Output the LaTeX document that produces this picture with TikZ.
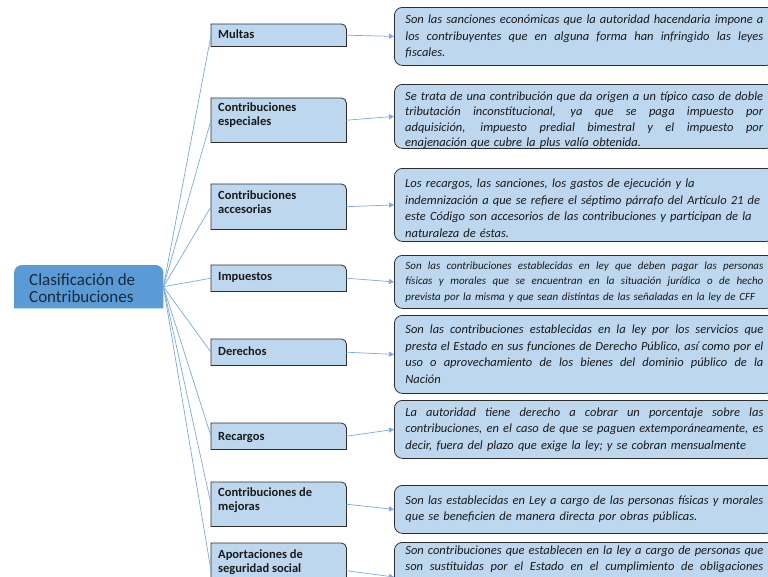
\documentclass[tikz,border=0pt]{standalone}
\usepackage{fontspec}
\setmainfont{Carlito}
\usetikzlibrary{arrows.meta}
\definecolor{boxfill}{HTML}{BDD7EE}
\definecolor{rootfill}{HTML}{5B9BD5}
\definecolor{conn}{HTML}{7EAAD9}
\definecolor{edgecol}{HTML}{2E2E2E}
\definecolor{txt}{HTML}{1A1A1A}
\definecolor{roottxt}{HTML}{1B2838}
\newlength\descW \setlength\descW{358pt}
\newcommand\jl[1]{\leavevmode\hbox to \descW{\spaceskip=\fontdimen2\font plus 1fil\relax #1}}
\tikzset{
  anchorbox/.style={rectangle, draw=none, fill=none, inner sep=0pt, anchor=north west},
  catshape/.style={draw=edgecol, fill=boxfill, line width=0.8pt},
  cattext/.style={anchor=north west, inner sep=0pt, align=left, text=txt,
     font=\fontsize{12.5}{14}\selectfont\bfseries},
  desc/.style={rectangle, draw=edgecol, fill=boxfill, rounded corners=8pt, line width=0.8pt,
     text width=\descW, inner xsep=11pt, inner ysep=0pt, anchor=north west, align=left,
     text=txt, font=\fontsize{12.5}{16.5}\selectfont\itshape},
  desctext/.style={text width=\descW, inner sep=0pt, anchor=north west, align=left,
     text=txt, font=\fontsize{12.5}{16.5}\selectfont\itshape},
  link/.style={draw=conn, line width=0.7pt},
  arr/.style={draw=conn, line width=0.7pt, -{Triangle[length=5pt,width=5pt]}}
}
\newcommand\catbox[4]{%
  \node[anchorbox, minimum width=135pt, minimum height={(#3-#2)*1pt}] (#1) at (211,#2) {};
  \draw[catshape] (#1.south west) -- (#1.north west) -- ([xshift=-5pt]#1.north east)
     arc[start angle=90,end angle=0,radius=5pt] -- (#1.south east) -- cycle;
}
\begin{document}
\begin{tikzpicture}[x=1pt,y=-1pt]
\useasboundingbox (0,0) rectangle (768,576);
\clip (0,0) rectangle (768,576);
\fill[white] (0,0) rectangle (768,576);

% root
\node[anchorbox, minimum width=149pt, minimum height=43pt] (root) at (14,265) {};
\fill[rootfill] (root.south west) -- ([yshift=-8pt]root.north west)
   arc[start angle=180,end angle=90,radius=8pt] -- ([xshift=-8pt]root.north east)
   arc[start angle=90,end angle=0,radius=8pt] -- (root.south east) -- cycle;
\node[anchor=north west, inner sep=0pt, align=left, text=roottxt,
   font=\fontsize{17}{17.5}\selectfont] (roottext) at (29,273) {\strut Clasificación de\\Contribuciones};

% categories
\catbox{c1}{24}{46}{}
\catbox{c2}{98}{142}{}
\catbox{c3}{184}{229}{}
\catbox{c4}{265}{291}{}
\catbox{c5}{339}{365}{}
\catbox{c6}{423}{449}{}
\catbox{c7}{482}{526}{}
\catbox{c8}{543}{598}{}

\node[cattext] (t1) at (218,28) {\strut Multas};
\node[cattext] (t2) at (218,101) {\strut Contribuciones\\especiales};
\node[cattext] (t3) at (218,189) {\strut Contribuciones\\accesorias};
\node[cattext] (t4) at (218,270) {\strut Impuestos};
\node[cattext] (t5) at (218,345) {\strut Derechos};
\node[cattext] (t6) at (218,430) {\strut Recargos};
\node[cattext] (t7) at (218,486) {\strut Contribuciones de\\mejoras};
\node[cattext] (t8) at (218,548) {\strut Aportaciones de\\seguridad social};

% descriptions
\node[desc, minimum height=58pt] (d1) at (394,7) {%
\jl{Son las sanciones económicas que la autoridad hacendaria impone a}\\
\jl{los contribuyentes que en alguna forma han infringido las leyes}\\
fiscales.};
\node[desc, minimum height=64pt] (d2) at (394,84) {};
\node[desctext, font=\fontsize{12.5}{15.5}\selectfont\itshape] (d2t) at (405,89) {%
\strut\jl{Se trata de una contribución que da origen a un típico caso de doble}\\
\jl{tributación inconstitucional, ya que se paga impuesto por}\\
\jl{adquisición, impuesto predial bimestral y el impuesto por}\\
enajenación que cubre la plus valía obtenida.};
\node[desc, minimum height=73pt] (d3) at (394,168) {};
\node[desctext] (d3t) at (405,176) {%
\strut Los recargos, las sanciones, los gastos de ejecución y la\\
indemnización a que se refiere el séptimo párrafo del Artículo 21 de\\
este Código son accesorios de las contribuciones y participan de la\\
naturaleza de éstas.};
\node[desc, minimum height=53pt, font=\fontsize{11}{15.5}\selectfont\itshape] (d4) at (394,255) {%
\jl{Son las contribuciones establecidas en ley que deben pagar las personas}\\
\jl{físicas y morales que se encuentran en la situación jurídica o de hecho}\\
prevista por la misma y que sean distintas de las señaladas en la ley de CFF};
\node[desc, minimum height=78pt] (d5) at (394,315) {%
\jl{Son las contribuciones establecidas en la ley por los servicios que}\\
\jl{presta el Estado en sus funciones de Derecho Público, así como por el}\\
\jl{uso o aprovechamiento de los bienes del dominio público de la}\\
Nación};
\node[desc, minimum height=58pt] (d6) at (394,400) {%
\jl{La autoridad tiene derecho a cobrar un porcentaje sobre las}\\
\jl{contribuciones, en el caso de que se paguen extemporáneamente, es}\\
decir, fuera del plazo que exige la ley; y se cobran mensualmente};
\node[desc, minimum height=48pt, font=\fontsize{12.5}{15.5}\selectfont\itshape] (d7) at (394,485) {%
\jl{Son las establecidas en Ley a cargo de las personas físicas y morales}\\
que se beneficien de manera directa por obras públicas.};
\node[desc, minimum height=60pt, inner ysep=3pt] (d8) at (394,542) {%
\jl{Son contribuciones que establecen en la ley a cargo de personas que}\\
\jl{son sustituidas por el Estado en el cumplimiento de obligaciones}\\
\strut\\
\strut};

% connectors
\foreach \c in {c1,c2,c3,c4,c5,c6,c7,c8}{
  \draw[link] (root.east) -- (\c.west);
}
\draw[arr] (c1.east) -- (d1.west);
\draw[arr] (c2.east) -- (d2.west);
\draw[arr] (c3.east) -- (d3.west);
\draw[arr] (c4.east) -- (d4.west);
\draw[arr] (c5.east) -- (d5.west);
\draw[arr] (c6.east) -- (d6.west);
\draw[arr] (c7.east) -- (d7.west);
\draw[arr] (c8.east) -- (d8.west);
\end{tikzpicture}
\end{document}
